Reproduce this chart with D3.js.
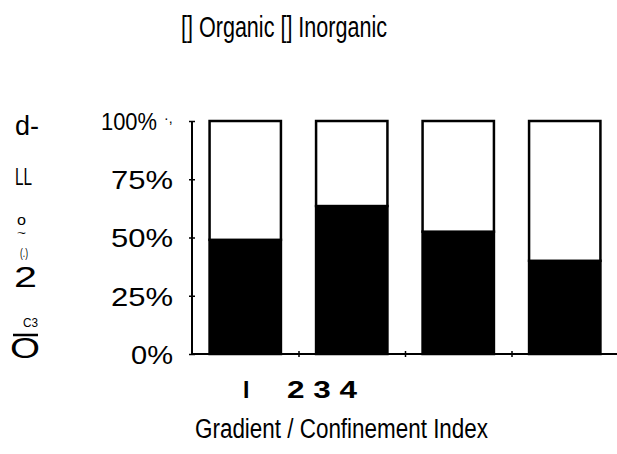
<!DOCTYPE html>
<html>
<head>
<meta charset="utf-8">
<script src="https://cdn.jsdelivr.net/npm/d3@7.9.0/dist/d3.min.js"></script>
<style>
  body { margin: 0; background: #fff; }
  svg { display: block; }
  text { font-family: "Liberation Sans", Arial, sans-serif; fill: #000; }
</style>
</head>
<body>
<svg width="617" height="454"></svg>
<script>
// data
const categories = ['1', '2', '3', '4'];
const organic = [49, 63.5, 52.5, 40];
const inorganic = [51, 36.5, 47.5, 60];
const seriesNames = ['Organic', 'Inorganic'];
const yTicks = [0, 0.25, 0.5, 0.75, 1];
const xLabels = ['I', '2', '3', '4'];
const xTitle = 'Gradient / Confinement Index';
// garbled rotated y title as it came out of the scan
const yTitleBits = ['d-', 'LL', 'o', '~', '(.)', '2', 'C3', 'O'];

const svg = d3.select('svg');
const rows = categories.map((c, i) => ({ cat: c, Organic: organic[i], Inorganic: inorganic[i] }));
const stacked = d3.stack().keys(seriesNames)(rows);

let x = d3.scaleBand().domain(categories).range([192, 618]).paddingInner(0.33).paddingOuter(0.165);
let y = d3.scaleLinear().domain([0, 100]).range([354, 121]);
let xEdge = d3.scaleLinear().domain([0, 4]).range([192, 618]);
let colors = d3.scaleOrdinal().domain(seriesNames).range(['#000', '#fff']);

// squeezed text, the scan uses a condensed face
function narrowText(str, xPos, yPos, size, len, anchor) {
  return svg.append('text')
    .attr('x', xPos).attr('y', yPos)
    .attr('font-size', size)
    .attr('text-anchor', anchor || 'start')
    .attr('textLength', len)
    .attr('lengthAdjust', 'spacingAndGlyphs')
    .text(str);
}

// legend line
narrowText(`[] ${seriesNames[0]} [] ${seriesNames[1]}`, 181, 37, 29, 206);

// bars
stacked.forEach(s => {
  svg.append('g').selectAll('rect')
    .data(s)
    .join('rect')
    .attr('x', d => x(d.data.cat))
    .attr('width', x.bandwidth())
    .attr('y', d => y(d[1]))
    .attr('height', d => y(d[0]) - y(d[1]))
    .attr('fill', colors(s.key))
    .attr('stroke', '#000')
    .attr('stroke-width', 2.5);
});

// y axis
let yAxis = svg.append('g')
  .attr('transform', 'translate(192,0)')
  .call(d3.axisLeft(d3.scaleLinear().domain([0, 1]).range([354, 121]))
    .tickValues(yTicks).tickFormat(d3.format('.0%')).tickSize(3).tickPadding(16));
yAxis.attr('font-family', null).attr('font-size', null);
yAxis.select('.domain').attr('stroke-width', 2).attr('d', 'M0,354V121');
yAxis.selectAll('.tick line').attr('x1', -3).attr('x2', 3).attr('stroke-width', 1.5);
yAxis.selectAll('.tick text')
  .attr('font-size', 26)
  .attr('dy', '0.36em')
  .attr('fill', '#000')
  .attr('textLength', d => d === 1 ? 56 : (d === 0 ? 42 : 62))
  .attr('lengthAdjust', 'spacingAndGlyphs');
yAxis.selectAll('.tick').filter(d => d === 1).select('text').attr('x', -35).attr('font-size', 24);
svg.append('text').attr('x', 164).attr('y', 123).attr('font-size', 14).text('·,');

// x axis, ticks at band edges
let xAxis = svg.append('g')
  .attr('transform', 'translate(0,354)')
  .call(d3.axisBottom(xEdge).tickValues([1, 2, 3]).tickFormat('').tickSize(3));
xAxis.select('.domain').attr('stroke-width', 2).attr('d', 'M192,0H618');
xAxis.selectAll('.tick line').attr('y1', -3).attr('y2', 3).attr('stroke-width', 1.5);

// category labels as typed in the scan
svg.append('text')
  .attr('x', 243).attr('y', 398)
  .attr('font-size', 23).attr('font-weight', 'bold')
  .text(xLabels[0]);
svg.append('text')
  .attr('x', 287).attr('y', 398)
  .attr('font-size', 24).attr('font-weight', 'bold')
  .attr('textLength', 70)
  .attr('lengthAdjust', 'spacingAndGlyphs')
  .text(xLabels.slice(1).join(' '));

// x title
narrowText(xTitle, 195, 438, 27, 293);

// scan fragments of the y title: x, y, size, width
const bitPos = [[15, 135, 27, 24], [15, 185, 23, 17], [17, 225, 14, 9], [17, 237, 10, 9], [20, 257, 12, 8], [14, 287, 29, 23], [23, 327, 13, 15], [10, 358, 30, 30]];
yTitleBits.forEach((t, i) => {
  narrowText(t, bitPos[i][0], bitPos[i][1], bitPos[i][2], bitPos[i][3]);
});
svg.append('line').attr('x1', 13).attr('x2', 38).attr('y1', 335).attr('y2', 335).attr('stroke', '#000').attr('stroke-width', 2.5);
</script>
</body>
</html>
